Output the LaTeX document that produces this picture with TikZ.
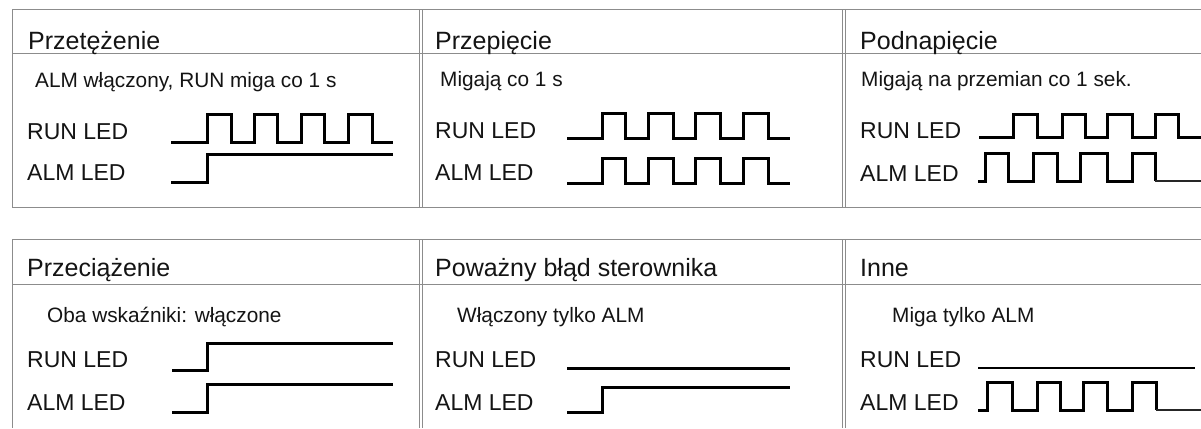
\documentclass[tikz,border=0pt]{standalone}
\usepackage{fontspec}
\setmainfont{Liberation Sans}
\begin{document}
\begin{tikzpicture}[x=1pt,y=-1pt,
  gridline/.style={draw=gray!90!white,line width=1pt},
  txt/.style={anchor=base west,inner sep=0pt,text=black!92},
  ttl/.style={txt,font=\fontsize{25}{28}\selectfont},
  sub/.style={txt,font=\fontsize{20.8}{24}\selectfont},
  led/.style={txt,font=\fontsize{23}{26}\selectfont},
  wave/.style={draw=black,line width=3pt,line join=miter,line cap=butt},
  thinwave/.style={draw=black!85,line width=1.6pt}]
\fill[white] (0,0) rectangle (1201,428);
\useasboundingbox (0,0) rectangle (1201,428);

% ---------- table frames ----------
% top table
\draw[gridline] (12,10) -- (1201,10);
\draw[gridline] (12,54) -- (1201,54);
\draw[gridline] (12,207) -- (1201,207);
\draw[gridline] (12,10) -- (12,207);
\foreach \x in {419,422,842,845} \draw[gridline] (\x,10) -- (\x,207);
% bottom table
\draw[gridline] (12,239) -- (1201,239);
\draw[gridline] (12,284) -- (1201,284);
\draw[gridline] (12,239) -- (12,428);
\foreach \x in {419,422,842,845} \draw[gridline] (\x,239) -- (\x,428);

% ---------- panel 1 ----------
\node[ttl] (t1) at (28,49) {Przetężenie};
\node[sub] (s1) at (35,88) {ALM włączony, RUN miga co 1 s};
\node[led] (r1) at (27,139) {RUN LED};
\node[led] (a1) at (27,180) {ALM LED};
\draw[wave] (171,142) -- (207,142) -- (207,114) -- (231,114) -- (231,142) -- (254,142) -- (254,114) -- (277,114) -- (277,142) -- (301,142) -- (301,114) -- (324,114) -- (324,142) -- (348,142) -- (348,114) -- (372,114) -- (372,142) -- (393,142);
\draw[wave] (171,182) -- (207,182) -- (207,154) -- (393,154);

% ---------- panel 2 ----------
\node[ttl] (t2) at (435,49) {Przepięcie};
\node[sub] (s2) at (440,86) {Migają co 1 s};
\node[led] (r2) at (435,138) {RUN LED};
\node[led] (a2) at (435,180) {ALM LED};
\draw[wave] (567,138) -- (602,138) -- (602,113) -- (625,113) -- (625,138) -- (648,138) -- (648,113) -- (673,113) -- (673,138) -- (695,138) -- (695,113) -- (720,113) -- (720,138) -- (743,138) -- (743,113) -- (768,113) -- (768,138) -- (790,138);
\draw[wave] (567,183) -- (602,183) -- (602,158) -- (625,158) -- (625,183) -- (648,183) -- (648,158) -- (673,158) -- (673,183) -- (695,183) -- (695,158) -- (720,158) -- (720,183) -- (743,183) -- (743,158) -- (768,158) -- (768,183) -- (790,183);

% ---------- panel 3 ----------
\node[ttl] (t3) at (860,49) {Podnapięcie};
\node[sub] (s3) at (861,86) {Migają na przemian co 1 sek.};
\node[led] (r3) at (860,138) {RUN LED};
\node[led] (a3) at (860,181) {ALM LED};
\draw[wave] (979,137) -- (1013,137) -- (1013,114) -- (1037,114) -- (1037,137) -- (1062,137) -- (1062,114) -- (1085,114) -- (1085,137) -- (1107,137) -- (1107,114) -- (1132,114) -- (1132,137) -- (1155,137) -- (1155,114) -- (1178,114) -- (1178,137) -- (1201,137);
\draw[wave] (978,181) -- (985,181) -- (985,153) -- (1008,153) -- (1008,181) -- (1033,181) -- (1033,153) -- (1057,153) -- (1057,181) -- (1080,181) -- (1080,153) -- (1107,153) -- (1107,181) -- (1132,181) -- (1132,153) -- (1155,153) -- (1155,181);
\draw[thinwave] (1155,181) -- (1201,181);

% ---------- panel 4 ----------
\node[ttl] (t4) at (27,276) {Przeciążenie};
\node[sub] (s4) at (47,322) {Oba wskaźniki: włączone};
\node[led] (r4) at (27,367) {RUN LED};
\node[led] (a4) at (27,410) {ALM LED};
\draw[wave] (172,370) -- (207,370) -- (207,343) -- (393,343);
\draw[wave] (172,412) -- (207,412) -- (207,384) -- (393,384);

% ---------- panel 5 ----------
\node[ttl] (t5) at (435,276) {Poważny błąd sterownika};
\node[sub] (s5) at (457,322) {Włączony tylko ALM};
\node[led] (r5) at (435,367) {RUN LED};
\node[led] (a5) at (435,410) {ALM LED};
\draw[wave] (567,368) -- (790,368);
\draw[wave] (567,412) -- (602,412) -- (602,387) -- (790,387);

% ---------- panel 6 ----------
\node[ttl] (t6) at (860,276) {Inne};
\node[sub] (s6) at (892,322) {Miga tylko ALM};
\node[led] (r6) at (860,367) {RUN LED};
\node[led] (a6) at (860,410) {ALM LED};
\draw[wave,line width=2.6pt] (978,368) -- (1195,368);
\draw[wave] (978,410) -- (987,410) -- (987,382) -- (1012,382) -- (1012,410) -- (1037,410) -- (1037,382) -- (1060,382) -- (1060,410) -- (1083,410) -- (1083,382) -- (1107,382) -- (1107,410) -- (1132,410) -- (1132,382) -- (1156,382) -- (1156,410);
\draw[thinwave] (1156,410) -- (1201,410);
\end{tikzpicture}
\end{document}
